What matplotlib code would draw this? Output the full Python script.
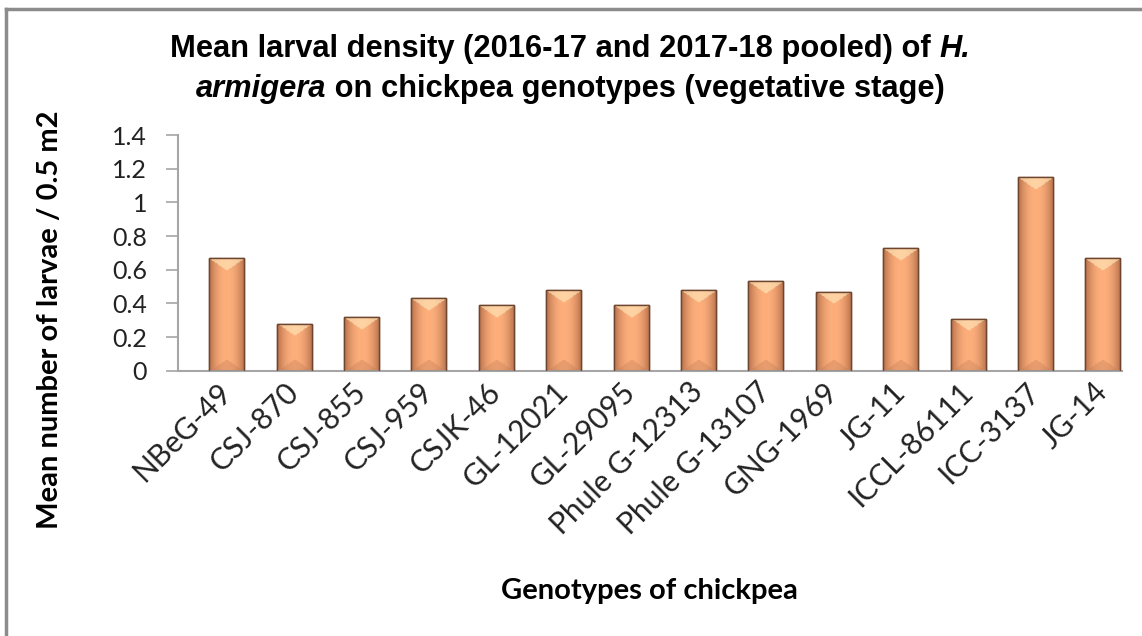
import numpy as np
import matplotlib
matplotlib.use("Agg")
import matplotlib.pyplot as plt
from matplotlib.lines import Line2D
from matplotlib.colors import to_rgb

genotypes = ["NBeG-49", "CSJ-870", "CSJ-855", "CSJ-959", "CSJK-46", "GL-12021",
             "GL-29095", "Phule G-12313", "Phule G-13107", "GNG-1969", "JG-11",
             "ICCL-86111", "ICC-3137", "JG-14"]
larvae = [0.67, 0.28, 0.32, 0.43, 0.39, 0.48, 0.39, 0.48, 0.53, 0.47, 0.73, 0.31, 1.15, 0.67]
yticks = [0, 0.2, 0.4, 0.6, 0.8, 1, 1.2, 1.4]
ytick_labels = ["0", "0.2", "0.4", "0.6", "0.8", "1", "1.2", "1.4"]
title_lines = [
    [("Mean larval density (2016-17 and 2017-18 pooled) of ", "normal"), ("H.", "italic")],
    [("armigera", "italic"), (" on chickpea genotypes (vegetative stage)", "normal")],
]

plt.rcParams['font.family'] = ['Lato', 'DejaVu Sans']

fig = plt.figure(figsize=(11.42, 6.36), dpi=100)
ax = fig.add_axes([177.7 / 1142, 0.4171, 944 / 1142, 0.3706])

x = np.arange(len(genotypes))
bars = ax.bar(x, larvae, width=0.52, color="#F5A674", edgecolor="#6E4630",
              linewidth=1.0, zorder=2)

# bevel look: paint a shaded picture inside each bar
edge_c = np.array(to_rgb("#B5704A"))
mid_c = np.array(to_rgb("#FDAE7B"))
top_c = np.array(to_rgb("#FFE6B8"))
bot_c = np.array(to_rgb("#B97651"))
px_per_unit = 235.7 / 1.4
for b in bars:
    h = b.get_height()
    ph = max(int(h * px_per_unit), 2)
    pw = 35
    u = np.linspace(0, 1, pw)
    prof = 1 - np.abs(2 * u - 1) ** 2.2
    base = edge_c[None, :] + (mid_c - edge_c)[None, :] * prof[:, None]
    img = np.repeat(base[None, :, :], ph, axis=0)
    v = np.arange(ph)[:, None]
    tri = 12 * (1 - np.abs(2 * u - 1))[None, :]
    top_mask = v < tri
    img[top_mask] = img[top_mask] * 0.35 + top_c * 0.65
    bot_mask = (ph - v) < tri
    img[bot_mask] = img[bot_mask] * 0.7 + bot_c * 0.3
    im = ax.imshow(img, extent=(b.get_x(), b.get_x() + b.get_width(), 0, h),
                   aspect='auto', zorder=2.5, interpolation='bilinear')
    im.set_clip_path(b)
    ax.add_patch(plt.Rectangle((b.get_x(), 0), b.get_width(), h, fill=False,
                               edgecolor="#6E4630", linewidth=1.0, zorder=3))

ax.set_xlim(-0.727, 13.28)
ax.set_ylim(0, 1.4)
ax.set_yticks(yticks)
ax.set_yticklabels(ytick_labels, fontsize=18, color="#222222")
ax.tick_params(axis='y', direction='out', length=9, width=1.2, color="#A6A6A6", pad=13)
ax.tick_params(axis='x', length=0, pad=12)
ax.set_xticks(x)
ax.set_xticklabels(genotypes, rotation=45, ha='right', va='center',
                   rotation_mode='anchor', fontsize=21.5, color="#222222")

for s in ["top", "right"]:
    ax.spines[s].set_visible(False)
for s in ["left", "bottom"]:
    ax.spines[s].set_color("#A6A6A6")
    ax.spines[s].set_linewidth(1.5)

ax.set_ylabel("Mean number of larvae / 0.5 m2", fontsize=21, fontweight='bold')
ax.yaxis.set_label_coords(-0.121, 0.215)
ax.set_xlabel("Genotypes of chickpea", fontsize=21, fontweight='bold')
ax.xaxis.set_label_coords(0.5, -0.88)

# title: built piece by piece so the species name can be italic
renderer = fig.canvas.get_renderer()
for line, yc in zip(title_lines, [49, 89]):
    pieces = []
    for txt, style in line:
        t = fig.text(0, 1 - yc / 636, txt, fontsize=22.2, fontweight='bold',
                     fontstyle=style, ha='left', va='center',
                     family=['Liberation Sans', 'DejaVu Sans'])
        pieces.append(t)
    widths = [p.get_window_extent(renderer).width for p in pieces]
    xpos = 570 - sum(widths) / 2
    for p, w in zip(pieces, widths):
        p.set_x(xpos / 1142)
        xpos += w

# outer chart border (left and top only are in view)
fig.add_artist(Line2D([6 / 1142, 6 / 1142], [0, 1 - 9 / 636], transform=fig.transFigure,
                      color="#8C8C8C", linewidth=2.5))
fig.add_artist(Line2D([6 / 1142, 1], [1 - 9 / 636, 1 - 9 / 636], transform=fig.transFigure,
                      color="#8C8C8C", linewidth=2.5))

fig.savefig("out.png", dpi=100)
